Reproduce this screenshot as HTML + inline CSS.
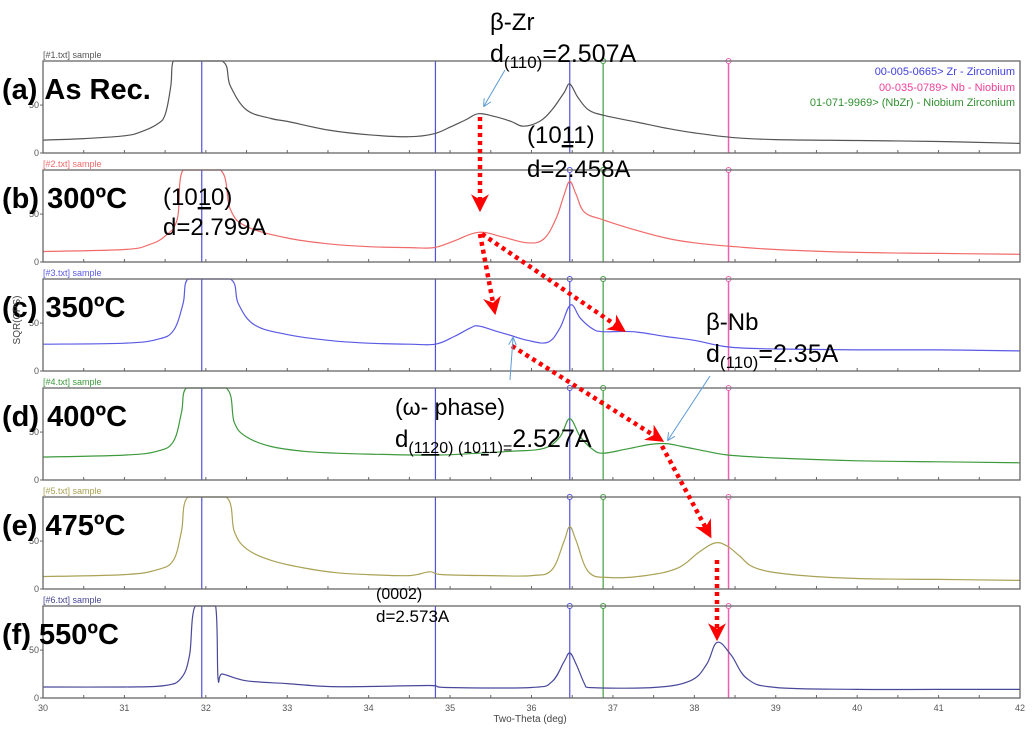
<!DOCTYPE html>
<html><head><meta charset="utf-8"><style>
body{margin:0;background:#fff;}
svg{display:block;font-family:"Liberation Sans",sans-serif;}
</style></head><body>
<svg id="chart" width="1035" height="742" viewBox="0 0 1035 742">
<defs>
<marker id="ra" viewBox="0 0 10 10" refX="6" refY="5" markerWidth="4" markerHeight="4" orient="auto-start-reverse"><path d="M0,0 L10,5 L0,10 L3,5 z" fill="#f00"/></marker>
<marker id="ba" viewBox="0 0 10 10" refX="9" refY="5" markerWidth="8" markerHeight="8" orient="auto"><path d="M0,0 L10,5 L0,10" fill="none" stroke="#5b9bd5" stroke-width="1.2"/></marker>
</defs>
<g id="panels"></g>
<g id="annot"></g>
</svg>
<script>
const xTicks=[30,31,32,33,34,35,36,37,38,39,40,41,42];
const refLinesZr=[31.95,34.82,36.47];
const refLineNb=[38.42];
const refLineNbZr=[36.88];
const panelNames=["#1.txt","#2.txt","#3.txt","#4.txt","#5.txt","#6.txt"];
const labels=["(a) As Rec.","(b) 300ºC","(c) 350ºC","(d) 400ºC","(e) 475ºC","(f) 550ºC"];
const colors=["#555","#f06a6a","#5a5ae6","#3d9a3d","#aaa255","#48489a"];
const twoThetaA=[30,30.5,31,31.2,31.4,31.5,31.57,31.6,32.2,32.3,32.5,32.8,33,33.5,34,34.5,34.8,35.0,35.2,35.35,35.55,35.75,35.9,36.1,36.25,36.4,36.47,36.57,36.7,36.9,37.25,37.65,38,38.5,39,40,41,42];
const cpsA=[13.5,15,18,22,30,40,70,100,100,70,45,36,33,24,19,17,20,27,35,41,38,33,28,33,45,63,72,58,45,39,33,26,21,16,14,13,12,10];
const twoThetaB=[30,31,31.3,31.5,31.65,31.72,32.18,32.3,32.5,33,33.5,34,34.5,34.8,35.05,35.35,35.65,35.95,36.15,36.3,36.4,36.47,36.55,36.65,36.88,37.25,37.65,38,38.5,39,40,41,42];
const cpsB=[11,13,18,27,45,100,100,55,37,25,19,16,15,15,22,31,26,20,24,45,70,84,70,52,44,34,25,20,16,13,10,9,8];
const twoThetaC=[30,31,31.4,31.6,31.72,31.78,32.3,32.4,32.6,33,33.5,34,34.5,34.82,35.05,35.25,35.35,35.55,35.75,35.95,36.2,36.35,36.48,36.6,36.75,36.88,37.25,37.65,38,38.42,39,40,41,42];
const cpsC=[28,29,33,42,70,100,100,70,48,38,32,29,28,28,36,45,47,42,37,32,30,45,69,55,44,41,41,36,32,25,23,22,22,21];
const twoThetaD=[30,31,31.4,31.6,31.7,31.76,32.25,32.35,32.5,32.8,33.2,33.6,34,34.82,35.35,35.75,36.15,36.35,36.47,36.6,36.75,36.88,37.15,37.45,37.65,37.85,38.15,38.42,39,40,41,42];
const cpsD=[24,26,30,40,70,100,100,60,45,35,30,28,27,26,28,30,33,45,64,45,32,28,32,37,38,35,30,26,23,20,19,18];
const twoThetaE=[30,31,31.4,31.6,31.7,31.78,32.25,32.35,32.5,32.8,33.2,33.6,34,34.5,34.75,34.9,35.5,36,36.25,36.4,36.47,36.55,36.7,36.95,37.4,37.8,38.05,38.25,38.4,38.55,38.75,39.2,40,41,42];
const cpsE=[13,15,20,30,60,100,100,60,42,30,22,17,15,14,18,15,14,14,20,50,65,50,18,12,14,22,38,48,45,35,22,15,11,10,9];
const twoThetaF=[30,31,31.5,31.7,31.8,31.87,32.12,32.15,32.2,32.5,33,33.5,34,34.75,34.95,36,36.25,36.4,36.47,36.55,36.65,36.7,37.5,37.95,38.15,38.28,38.45,38.65,39,40,41,42];
const cpsF=[11.5,11.5,13,21,45,100,100,21,25,18,15,12,12,13,11,11,17,38,47,35,15,11,11,18,35,58,45,20,11,9,9,9];
const series=[[twoThetaA,cpsA],[twoThetaB,cpsB],[twoThetaC,cpsC],[twoThetaD,cpsD],[twoThetaE,cpsE],[twoThetaF,cpsF]];

const NS="http://www.w3.org/2000/svg";
const X0=43,X1=1020,PH=92,YMAX=96;
function xs(v){return X0+(v-30)/12*(X1-X0);}
function mk(tag,at,parent){const e=document.createElementNS(NS,tag);for(const k in at)e.setAttribute(k,at[k]);parent.appendChild(e);return e;}
function smooth(p,top,bot){
  let d="M"+p[0][0].toFixed(1)+","+p[0][1].toFixed(1);
  const t=0.18;
  for(let i=0;i<p.length-1;i++){
    const a=p[Math.max(0,i-1)],b=p[i],c=p[i+1],e=p[Math.min(p.length-1,i+2)];
    let c1x=b[0]+(c[0]-a[0])*t,c1y=b[1]+(c[1]-a[1])*t;
    let c2x=c[0]-(e[0]-b[0])*t,c2y=c[1]-(e[1]-b[1])*t;
    c1y=Math.max(top,Math.min(bot,c1y));c2y=Math.max(top,Math.min(bot,c2y));
    c1x=Math.max(b[0],Math.min(c[0],c1x));c2x=Math.max(b[0],Math.min(c[0],c2x));
    d+=" C"+c1x.toFixed(1)+","+c1y.toFixed(1)+" "+c2x.toFixed(1)+","+c2y.toFixed(1)+" "+c[0].toFixed(1)+","+c[1].toFixed(1);
  }
  return d;
}
const G=document.getElementById("panels");
series.forEach((s,i)=>{
  const top=61+109*i, bot=top+PH;
  const ys=v=>bot-Math.min(v,YMAX)/YMAX*PH;
  const g=mk("g",{},G);
  
  
  const tt=mk("text",{x:X0,y:top-3,"font-size":9,fill:colors[i]},g);tt.textContent="["+panelNames[i]+"] sample";
  
  
  refLinesZr.forEach((r,j)=>{const l=mk("line",{x1:xs(r),x2:xs(r),y1:top,y2:bot,stroke:"#5050e0","stroke-width":1.2},g);
    
    if(j==2&&i>0)mk("circle",{cx:xs(r),cy:top,r:2.5,fill:"#fff",stroke:"#5050e0"},g);});
  refLineNbZr.forEach(r=>{const l=mk("line",{x1:xs(r),x2:xs(r),y1:top,y2:bot,stroke:"#40a040","stroke-width":1.2},g);
    
    mk("circle",{cx:xs(r),cy:top,r:2.5,fill:"#fff",stroke:"#40a040"},g);});
  refLineNb.forEach(r=>{const l=mk("line",{x1:xs(r),x2:xs(r),y1:top,y2:bot,stroke:"#f060b0","stroke-width":1.5},g);
    
    mk("circle",{cx:xs(r),cy:top,r:2.5,fill:"#fff",stroke:"#f060b0"},g);});
  const pts=s[0].map((x,k)=>[xs(x),ys(s[1][k])]);
  const pl=mk("path",{d:smooth(pts,top,bot),fill:"none",stroke:colors[i],"stroke-width":1.2,"stroke-linejoin":"round"},g);
  
  
  const fr=mk("rect",{x:X0,y:top,width:X1-X0,height:PH,fill:"none",stroke:"#666","stroke-width":1.3},g);
  
  [0,50].forEach(v=>{mk("line",{x1:X0-3,x2:X0,y1:ys(v),y2:ys(v),stroke:"#666"},g);
    const t=mk("text",{x:X0-4,y:ys(v)+3,"font-size":9,fill:"#555","text-anchor":"end"},g);t.textContent=v;
    });
  for(let v=30;v<=42;v+=0.5){mk("line",{x1:xs(v),x2:xs(v),y1:bot,y2:bot-3,stroke:"#666"},g);}
  const lb=mk("text",{x:2,y:top+38,"font-size":29,fill:"#000","font-weight":"bold"},g);lb.textContent=labels[i];
  
  if(i==5){xTicks.forEach(v=>{const t=mk("text",{x:xs(v),y:bot+13,"font-size":9,fill:"#555","text-anchor":"middle"},g);t.textContent=v;
    });}
});
const A=document.getElementById("annot");
function txt(x,y,s,fs,fill,anchor){const t=mk("text",{x:x,y:y,"font-size":fs,fill:fill||"#000","text-anchor":anchor||"start"},A);t.innerHTML=s;return t;}
let t;
t=txt(530,722,"Two-Theta (deg)",10,"#444","middle");
t=mk("text",{x:20,y:320,"font-size":10,fill:"#444",transform:"rotate(-90 20 320)","text-anchor":"middle"},A);t.textContent="SQR(CPS)";

t=txt(1015,75,"00-005-0665&gt; Zr - Zirconium",11,"#4040e0","end");
t=txt(1015,91,"00-035-0789&gt; Nb - Niobium",11,"#f0409a","end");
t=txt(1015,106,"01-071-9969&gt; (NbZr) - Niobium Zirconium",11,"#309030","end");
t=txt(490,30,"β-Zr",24);
t=txt(490,62,'d<tspan font-size="17" dy="6">(110)</tspan><tspan dy="-6">=2.507A</tspan>',25);
t=txt(527,143,'(10<tspan text-decoration="underline">1</tspan>1)',24);
t=txt(527,177,"d=2.458A",24);
t=txt(163,205,'(10<tspan text-decoration="underline">1</tspan>0)',24);
t=txt(163,235,"d=2.799A",24);
t=txt(706,330,"β-Nb",24);
t=txt(706,362,'d<tspan font-size="17" dy="6">(110)</tspan><tspan dy="-6">=2.35A</tspan>',25);
t=txt(395,415,"(ω- phase)",23);
t=txt(395,447,'d<tspan font-size="16" dy="6">(1<tspan text-decoration="underline">12</tspan>0) (10<tspan text-decoration="underline">1</tspan>1)=</tspan><tspan dy="-6" font-size="25">2.527A</tspan>',24);
t=txt(376,599,"(0002)",16);
t=txt(376,622,"d=2.573A",17);
[[480,117,480,205],[480,234,494,308],[482,234,620,328],[512,346,658,438],[662,446,708,532],[717,560,717,634]].forEach(a=>{
  const l=mk("line",{x1:a[0],y1:a[1],x2:a[2],y2:a[3],stroke:"#f00","stroke-width":4.5,"stroke-dasharray":"4 4","marker-end":"url(#ra)"},A);
  });
[[505,70,484,106],[510,380,513,338],[710,376,668,440]].forEach(a=>{
  const l=mk("line",{x1:a[0],y1:a[1],x2:a[2],y2:a[3],stroke:"#5b9bd5","stroke-width":1,"marker-end":"url(#ba)"},A);
  });
</script>
</body></html>
